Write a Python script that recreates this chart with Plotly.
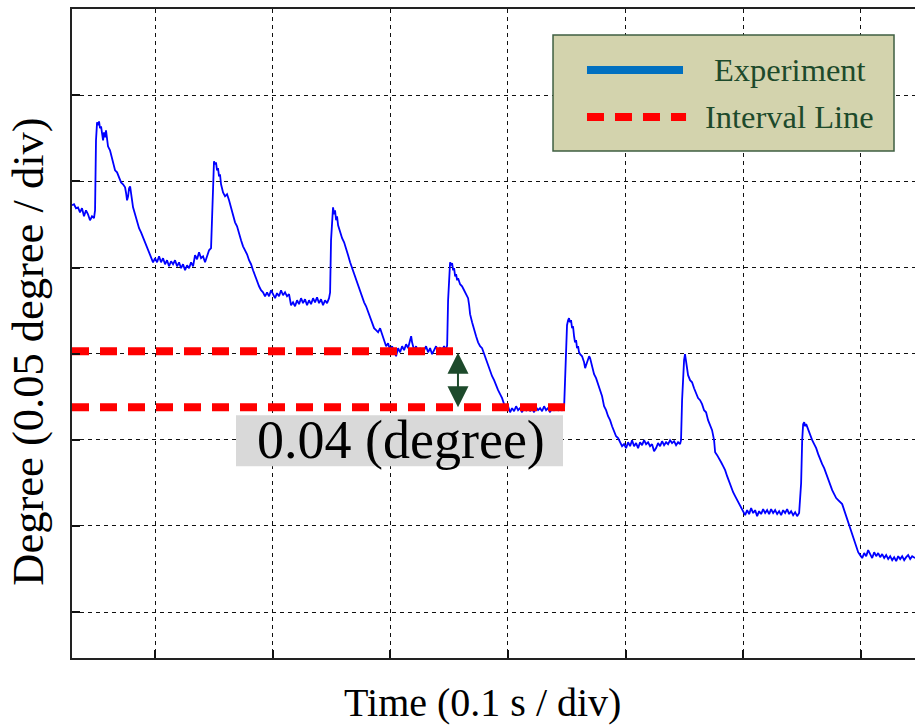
import plotly.graph_objects as go

# Experiment trace: time (ms) and angle (millidegree, 50 mdeg = 0.05 degree per div)
t_exp = [29.4, 31.1, 32.8, 34.5, 36.2, 37.9, 39.6, 41.3, 43.0, 44.7, 46.4, 48.1, 49.0, 49.4, 49.8, 50.7, 51.5, 52.4, 53.2, 54.1,
         54.9, 55.8, 56.6, 57.5, 58.3, 59.2, 60.0, 61.7, 63.4, 65.1, 66.0, 67.7, 69.4, 71.1, 72.8, 74.5, 75.4, 76.2, 77.1, 77.9,
         78.8, 79.6, 81.3, 83.0, 84.7, 86.4, 88.1, 89.8, 91.5, 93.2, 94.9, 96.6, 98.3, 100.0, 101.7, 103.4, 105.1, 106.8, 108.5, 110.2,
         111.9, 113.6, 115.3, 117.0, 118.7, 120.4, 122.1, 123.8, 125.5, 127.2, 128.9, 130.6, 132.3, 134.0, 135.7, 137.4, 139.1, 140.8, 142.5, 144.2,
         145.9, 147.6, 148.4, 149.3, 150.1, 151.0, 151.8, 152.7, 153.5, 154.4, 155.2, 156.1, 156.9, 157.8, 159.5, 161.2, 162.9, 164.6, 166.3, 168.0,
         169.7, 171.4, 173.1, 174.8, 176.5, 178.2, 179.9, 181.6, 183.3, 185.0, 186.7, 188.4, 190.1, 191.8, 193.5, 195.2, 196.9, 198.6, 200.3, 202.0,
         203.7, 205.4, 207.1, 208.8, 210.5, 212.2, 213.9, 215.6, 217.3, 219.0, 220.7, 222.4, 224.1, 225.8, 227.5, 229.2, 230.9, 232.6, 234.3, 236.0,
         237.7, 239.4, 241.1, 242.8, 244.5, 246.2, 247.9, 248.8, 249.6, 250.5, 251.3, 252.2, 253.0, 253.9, 254.7, 255.6, 257.3, 259.0, 260.7, 262.4,
         264.1, 265.8, 267.5, 269.2, 270.9, 272.6, 274.3, 276.0, 277.7, 279.4, 281.1, 282.8, 284.5, 286.2, 287.9, 289.6, 291.3, 293.0, 294.7, 296.4,
         298.1, 299.8, 301.5, 303.2, 304.9, 306.6, 308.3, 310.0, 311.7, 313.4, 315.1, 316.8, 317.7, 318.5, 320.2, 321.9, 323.6, 325.3, 327.0, 328.7,
         330.4, 332.1, 333.8, 335.5, 337.2, 338.9, 340.6, 342.3, 344.0, 345.7, 347.4, 348.3, 349.1, 350.0, 350.8, 351.7, 352.5, 353.4, 354.2, 355.1,
         355.9, 356.8, 357.6, 359.3, 361.0, 362.7, 364.4, 366.1, 367.0, 367.8, 369.5, 371.2, 372.9, 374.6, 376.3, 378.0, 379.7, 381.4, 383.1, 384.8,
         386.5, 388.2, 389.9, 391.6, 393.3, 395.0, 396.7, 398.4, 400.1, 401.8, 403.5, 405.2, 406.9, 408.6, 410.3, 412.0, 413.7, 415.4, 417.1, 418.8,
         420.5, 422.2, 423.9, 425.6, 427.3, 429.0, 430.7, 432.4, 434.1, 435.8, 437.5, 439.2, 440.9, 442.6, 444.3, 446.0, 447.7, 448.5, 449.4, 450.2,
         451.1, 451.9, 452.8, 453.6, 454.5, 455.3, 456.2, 457.0, 457.9, 458.7, 459.6, 460.4, 461.3, 463.0, 464.7, 465.6, 466.4, 468.1, 469.0, 469.8,
         471.5, 473.2, 474.9, 476.6, 478.3, 480.0, 481.7, 483.4, 485.1, 486.8, 488.5, 490.2, 491.9, 493.6, 495.3, 497.0, 498.7, 500.4, 502.1, 503.8,
         505.5, 507.2, 508.9, 510.6, 512.3, 514.0, 515.7, 517.4, 519.1, 520.8, 522.5, 524.2, 525.9, 527.6, 529.3, 531.0, 532.7, 534.4, 536.1, 537.8,
         539.5, 541.2, 542.9, 544.6, 546.3, 547.1, 548.0, 548.8, 549.7, 550.5, 551.4, 552.2, 553.1, 554.8, 556.5, 558.2, 559.9, 561.6, 563.3, 565.0,
         566.7, 568.4, 570.1, 571.8, 573.5, 575.2, 576.1, 577.8, 579.5, 581.2, 582.9, 584.6, 586.3, 588.0, 589.7, 591.4, 593.1, 594.8, 596.5, 598.2,
         599.9, 601.6, 603.3, 605.0, 606.7, 608.4, 610.1, 611.8, 613.5, 615.2, 616.9, 618.6, 620.3, 622.0, 623.7, 625.4, 627.1, 628.8, 630.5, 632.2,
         633.9, 635.6, 637.3, 639.0, 640.7, 642.4, 644.1, 645.8, 647.5, 648.4, 649.2, 650.1, 650.9, 651.8, 652.6, 653.5, 655.2, 656.9, 658.6, 660.3,
         662.0, 663.7, 665.4, 667.1, 668.8, 670.5, 672.2, 673.9, 675.6, 677.3, 679.0, 680.7, 682.4, 684.1, 685.8, 687.5, 689.2, 690.9, 692.6, 694.3,
         696.0, 697.7, 699.4, 701.1, 702.8, 704.5, 706.2, 707.9, 709.6, 711.3, 713.0, 714.7, 716.4, 718.1, 719.8, 721.5, 723.2, 724.9, 726.6, 728.3,
         730.0, 731.7, 733.4, 735.1, 736.8, 738.5, 740.2, 741.9, 743.6, 746.1]
v_exp = [286.1, 286.7, 284.4, 284.9, 282.0, 284.4, 279.7, 283.2, 280.9, 277.4, 279.7, 278.6, 283.2, 300.6, 323.8, 334.2, 332.5, 334.8, 330.8, 331.9,
         327.3, 323.8, 328.4, 325.5, 329.6, 323.8, 320.3, 318.0, 313.9, 309.9, 306.4, 305.2, 301.8, 299.4, 298.3, 296.5, 293.1, 289.0, 291.3, 296.0,
         297.1, 292.5, 284.9, 280.9, 276.2, 272.8, 270.4, 267.5, 265.2, 261.7, 258.8, 256.5, 253.0, 255.4, 253.0, 256.5, 253.0, 255.4, 251.9, 254.2,
         250.7, 253.6, 251.9, 254.2, 250.7, 253.0, 249.6, 251.9, 248.4, 251.3, 249.6, 253.0, 250.7, 257.1, 254.8, 258.8, 255.4, 256.5, 253.0, 256.5,
         260.0, 261.2, 277.4, 303.5, 311.6, 309.9, 311.0, 306.4, 307.6, 302.9, 304.1, 298.3, 296.0, 293.6, 291.3, 292.5, 289.0, 284.4, 280.3, 276.2,
         273.9, 269.3, 265.8, 262.3, 260.0, 257.7, 254.2, 251.9, 248.4, 244.9, 241.4, 239.1, 236.8, 235.6, 233.3, 235.6, 233.3, 236.8, 234.5, 232.2,
         235.1, 233.3, 236.8, 233.9, 235.6, 233.3, 234.5, 228.1, 229.8, 227.5, 231.0, 228.7, 232.2, 229.3, 231.6, 228.1, 231.0, 228.7, 232.2, 229.8,
         232.7, 229.3, 231.6, 228.1, 231.0, 229.3, 232.2, 235.6, 265.8, 282.0, 284.9, 280.9, 283.2, 277.4, 279.7, 274.5, 270.4, 267.0, 264.6, 261.2,
         257.1, 253.0, 249.6, 246.1, 242.6, 239.7, 235.6, 232.2, 229.8, 227.5, 224.0, 220.6, 218.2, 214.8, 213.6, 212.4, 214.8, 211.3, 206.6, 204.3,
         206.1, 202.0, 204.3, 200.8, 198.5, 203.2, 200.8, 204.3, 202.0, 205.5, 203.2, 207.8, 210.1, 206.6, 202.0, 204.3, 200.8, 203.2, 199.7, 202.0,
         204.3, 200.8, 203.2, 199.7, 202.0, 204.3, 200.8, 203.2, 202.0, 204.3, 202.0, 204.9, 231.0, 245.5, 253.0, 251.3, 252.5, 248.4, 249.6, 244.9,
         246.1, 242.6, 243.8, 240.3, 239.1, 236.8, 234.5, 232.2, 228.1, 222.9, 218.2, 213.6, 210.1, 206.6, 204.3, 203.2, 199.7, 196.2, 192.7, 189.2,
         186.9, 184.6, 181.1, 178.8, 176.5, 174.2, 170.7, 167.2, 169.5, 166.0, 168.4, 166.6, 169.5, 167.2, 168.4, 166.0, 168.9, 167.2, 169.5, 166.6,
         168.4, 166.0, 168.9, 167.2, 168.4, 166.6, 169.5, 167.2, 168.4, 166.0, 168.9, 167.2, 168.4, 167.2, 168.9, 167.2, 168.4, 184.6, 204.9, 216.5,
         219.4, 220.6, 218.2, 219.4, 214.8, 215.9, 210.1, 206.6, 207.8, 203.2, 204.3, 200.8, 199.7, 198.5, 195.0, 191.6, 193.3, 197.4, 198.5, 197.4,
         192.7, 188.1, 185.8, 182.3, 178.8, 175.3, 169.5, 167.2, 163.7, 161.4, 157.9, 154.4, 152.1, 151.0, 148.6, 146.3, 147.5, 145.2, 148.6, 146.3,
         149.8, 146.3, 148.1, 145.2, 148.6, 146.9, 149.8, 147.5, 148.6, 146.3, 147.5, 143.4, 145.2, 148.1, 146.3, 149.2, 146.9, 148.6, 147.5, 149.8,
         148.1, 149.2, 146.9, 148.6, 147.5, 149.8, 173.0, 184.6, 196.2, 199.7, 196.2, 191.6, 187.5, 184.6, 183.4, 179.9, 176.5, 174.2, 173.0, 170.7,
         167.2, 166.0, 161.4, 157.9, 155.6, 149.8, 142.8, 141.1, 139.4, 137.0, 134.7, 132.4, 128.9, 125.4, 121.9, 119.6, 117.3, 115.0, 112.7, 110.4,
         108.0, 106.3, 109.2, 106.9, 110.4, 107.5, 109.2, 105.7, 108.6, 106.9, 109.8, 107.5, 109.2, 106.9, 109.8, 107.5, 109.2, 106.9, 108.6, 106.3,
         109.2, 107.5, 109.8, 106.9, 108.6, 106.3, 108.0, 105.7, 107.5, 115.0, 124.9, 149.8, 159.1, 160.2, 157.9, 159.1, 155.6, 153.3, 149.8, 147.5,
         145.2, 141.7, 138.2, 135.9, 133.6, 130.1, 126.6, 123.1, 120.8, 118.5, 116.2, 115.0, 113.8, 112.7, 109.2, 105.7, 102.2, 97.6, 94.1, 90.6,
         87.2, 84.8, 83.1, 81.4, 84.3, 82.5, 86.0, 83.7, 81.4, 84.8, 82.5, 84.3, 81.9, 83.7, 81.4, 83.1, 80.8, 82.5, 80.2, 81.9,
         79.6, 82.5, 80.8, 82.5, 80.2, 81.9, 83.1, 80.8, 82.5, 81.4]

# Interval lines (time ms, angle mdeg)
upper_t = [29.4, 357.5]
upper_v = [201.4, 201.4]
lower_t = [29.4, 450.2]
lower_v = [168.9, 168.9]

x_ticks = [100, 200, 300, 400, 500, 600, 700]
y_ticks = [50, 100, 150, 200, 250, 300, 350, 400]

SERIF = "Liberation Serif, Times New Roman, serif"
GREEN = "#1d4a2b"

fig = go.Figure()
fig.add_trace(go.Scatter(x=t_exp, y=v_exp, mode="lines", name="Experiment",
                         line=dict(color="#0000ff", width=1.8), showlegend=False))
fig.add_trace(go.Scatter(x=upper_t, y=upper_v, mode="lines", name="Interval Line",
                         line=dict(color="#ff0000", width=8, dash="17px,11px"), showlegend=False))
fig.add_trace(go.Scatter(x=lower_t, y=lower_v, mode="lines", name="Interval Line",
                         line=dict(color="#ff0000", width=8, dash="17px,11px"), showlegend=False))

# grey label box behind the "0.04 (degree)" text
fig.add_shape(type="rect", xref="x", yref="y", x0=168.8, x1=446.8, y0=134.7, y1=164.3,
              fillcolor="#d9d9d9", line=dict(width=0), layer="between")
fig.add_annotation(x=309.1, y=150.0, xref="x", yref="y", text="0.04 (degree)", showarrow=False,
                   font=dict(family=SERIF, size=54, color="black"), xanchor="center", yanchor="middle")

# double arrow between the interval lines
fig.add_annotation(x=357.5, y=lower_v[0], ax=357.5, ay=upper_v[0], xref="x", yref="y",
                   axref="x", ayref="y", text="", showarrow=True, arrowside="end+start",
                   arrowhead=2, startarrowhead=2, arrowsize=2.1, startarrowsize=2.1,
                   arrowwidth=2, arrowcolor=GREEN)

# legend (drawn in paper coordinates)
fig.add_shape(type="rect", xref="paper", yref="paper", x0=0.5706, x1=0.9751, y0=0.7812, y1=0.9599,
              fillcolor="#d3d3ad", line=dict(color="#3f5f42", width=1.5), layer="above")
fig.add_shape(type="line", xref="paper", yref="paper", x0=0.6109, x1=0.7248, y0=0.9060, y1=0.9060,
              line=dict(color="#0070c0", width=8), layer="above")
fig.add_shape(type="line", xref="paper", yref="paper", x0=0.6109, x1=0.7284, y0=0.8336, y1=0.8336,
              line=dict(color="#ff0000", width=8, dash="17px,11px"), layer="above")
fig.add_annotation(x=0.8517, y=0.9060, xref="paper", yref="paper", text="Experiment", showarrow=False,
                   font=dict(family=SERIF, size=32.5, color=GREEN), xanchor="center", yanchor="middle")
fig.add_annotation(x=0.8517, y=0.8336, xref="paper", yref="paper", text="Interval Line", showarrow=False,
                   font=dict(family=SERIF, size=32.5, color=GREEN), xanchor="center", yanchor="middle")

# axis titles
fig.add_annotation(x=0.4875, y=-0.069, xref="paper", yref="paper", text="Time (0.1 s / div)", showarrow=False,
                   font=dict(family=SERIF, size=40, color="black"), xanchor="center", yanchor="middle")
fig.add_annotation(x=-0.052, y=0.4723, xref="paper", yref="paper", text="Degree (0.05 degree / div)",
                   showarrow=False, textangle=-90,
                   font=dict(family=SERIF, size=44.5, color="black"), xanchor="center", yanchor="middle")

fig.update_xaxes(range=[29.4, 746.0], tickvals=x_ticks, showticklabels=False, ticks="inside", ticklen=8,
                 tickwidth=1.5, tickcolor="#111", showline=True, linewidth=2, linecolor="#222", mirror=True,
                 showgrid=True, gridcolor="#111", gridwidth=1.3, griddash="4px,4px", zeroline=False)
fig.update_yaxes(range=[23.4, 400.0], tickvals=y_ticks, showticklabels=False, ticks="inside", ticklen=8,
                 tickwidth=1.5, tickcolor="#111", showline=True, linewidth=2, linecolor="#222", mirror=False,
                 showgrid=True, gridcolor="#111", gridwidth=1.3, griddash="4px,4px", zeroline=False)

fig.update_layout(width=915, height=727, margin=dict(l=72, r=0, t=9, b=69),
                  paper_bgcolor="white", plot_bgcolor="white", showlegend=False,
                  font=dict(family=SERIF))

fig.write_html("out.html")
